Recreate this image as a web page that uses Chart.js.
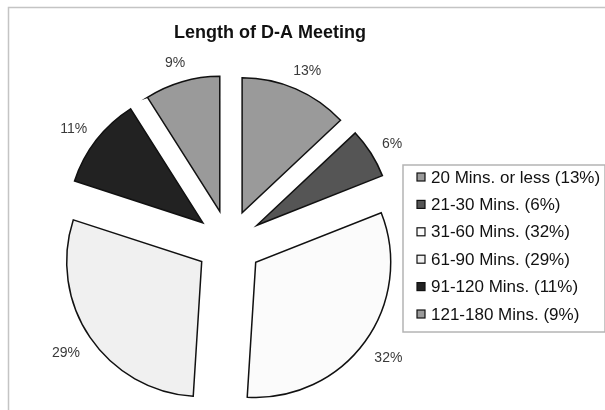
<!DOCTYPE html>
<html>
<head>
<meta charset="utf-8">
<script src="https://cdn.jsdelivr.net/npm/chart.js@4/dist/chart.umd.min.js"></script>
<style>
html,body{margin:0;padding:0;background:#fff;}
canvas{display:block;}
</style>
</head>
<body>
<canvas id="meetingpie" width="605" height="410"></canvas>
<script>
// data
const titleText = "Length of D-A Meeting";
const categories = ["20 Mins. or less", "21-30 Mins.", "31-60 Mins.", "61-90 Mins.", "91-120 Mins.", "121-180 Mins."];
const shares = [13, 6, 32, 29, 11, 9];
const sliceColors = ["#9a9a9a", "#555555", "#fbfbfb", "#f0f0f0", "#222222", "#9a9a9a"];

const FONT = '"Liberation Sans", Arial, sans-serif';
const EXPLODE = 33; // how far every slice is pulled out

/** push each arc out along its middle angle (no radius change) */
const explodePlugin = {
    id: 'explode',
    afterDatasetsUpdate(chart) {
        chart.getDatasetMeta(0).data.forEach(arc => {
            const mid = (arc.startAngle + arc.endAngle) / 2;
            arc.x += Math.cos(mid) * EXPLODE;
            arc.y += Math.sin(mid) * EXPLODE;
        });
    }
};

/** percent labels outside the slices */
const pctLabelPlugin = {
    id: 'pctLabels',
    afterDatasetsDraw(chart) {
        const ctx = chart.ctx;
        ctx.save();
        ctx.font = '14px ' + FONT;
        ctx.fillStyle = '#3a3a3a';
        ctx.textAlign = 'center';
        ctx.textBaseline = 'middle';
        chart.getDatasetMeta(0).data.forEach((arc, i) => {
            const mid = (arc.startAngle + arc.endAngle) / 2;
            const txt = shares[i] + '%';
            const w = ctx.measureText(txt).width;
            const r = arc.outerRadius + 15;
            const x = arc.x + Math.cos(mid) * (r + w / 2);
            const y = arc.y + Math.sin(mid) * (r + 7) + 3;
            ctx.fillText(txt, x, y);
        });
        ctx.restore();
    }
};

/** title, frame and boxed legend */
const decorPlugin = {
    id: 'decor',
    afterDraw(chart) {
        const ctx = chart.ctx;
        ctx.save();
        // frame (only left/top edge visible)
        ctx.strokeStyle = '#c4c4c4';
        ctx.lineWidth = 1.5;
        ctx.beginPath();
        ctx.moveTo(8.5, 410);
        ctx.lineTo(8.5, 7.5);
        ctx.lineTo(605, 7.5);
        ctx.stroke();

        // title
        ctx.font = 'bold 18px ' + FONT;
        ctx.fillStyle = '#111';
        ctx.textAlign = 'center';
        ctx.textBaseline = 'middle';
        ctx.fillText(titleText, 270, 33);

        // legend
        ctx.strokeStyle = '#b4b4b4';
        ctx.strokeRect(403, 165, 202, 167);
        ctx.font = '17px ' + FONT;
        ctx.textAlign = 'left';
        categories.forEach((c, i) => {
            const y = 177 + i * 27.4;
            ctx.fillStyle = sliceColors[i];
            ctx.fillRect(417, y - 4, 8, 8);
            ctx.strokeStyle = '#111';
            ctx.lineWidth = 1.2;
            ctx.strokeRect(417, y - 4, 8, 8);
            ctx.fillStyle = '#111';
            ctx.fillText(c + ' (' + shares[i] + '%)', 431, y + 1);
        });
        ctx.restore();
    }
};

const meetingChart = new Chart("meetingpie", {
    type: "pie",
    data: {
        labels: categories,
        datasets: [{
            data: shares,
            backgroundColor: sliceColors,
            borderColor: "#111",
            borderWidth: 1.5,
            borderJoinStyle: "miter",
            radius: 135
        }]
    },
    options: {
        responsive: false,
        animation: false,
        events: [],
        layout: { padding: { left: 79, right: 226, top: 93, bottom: 17 } },
        plugins: {
            legend: { display: false },
            title: { display: false },
            tooltip: { enabled: false }
        }
    },
    plugins: [explodePlugin, pctLabelPlugin, decorPlugin]
});
</script>
</body>
</html>
